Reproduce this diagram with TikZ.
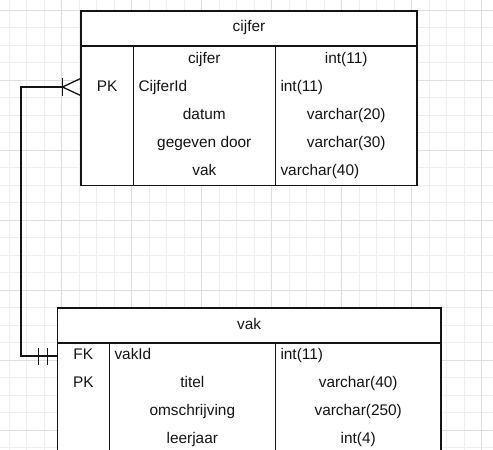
\documentclass[tikz,border=0pt]{standalone}
\usepackage{fontspec}
\setmainfont{Liberation Sans}
\usetikzlibrary{calc}
\definecolor{gridminor}{RGB}{238,238,238}
\definecolor{gridmajor}{RGB}{222,222,222}
\definecolor{ink}{RGB}{20,20,20}
\tikzset{
  entity/.style={draw=ink, fill=white, line width=1.6pt, inner sep=0pt, outer sep=0pt, anchor=north west},
  divider/.style={draw=ink, line width=1.6pt},
  txt/.style={font=\fontsize{15.4}{18}\selectfont, text=ink, inner sep=0pt, text height=11pt, text depth=0pt},
  lefttxt/.style={txt, anchor=west},
  conn/.style={draw=ink, line width=1.3pt},
  minorline/.style={draw=gridminor, line width=0.8pt},
  majorline/.style={draw=gridmajor, line width=0.8pt}
}
\begin{document}
\begin{tikzpicture}[x=1pt,y=-1pt]
\useasboundingbox (0,0) rectangle (493,450);
\clip (0,0) rectangle (493,450);
\fill[white] (0,0) rectangle (493,450);
% grid
\foreach \i in {0,...,29} {
  \draw[minorline] ({-8.3+17.5*\i},0) -- ({-8.3+17.5*\i},450);
}
\foreach \i in {0,...,26} {
  \draw[minorline] (0,{10+17.5*\i}) -- (493,{10+17.5*\i});
}
\foreach \i in {0,...,7} {
  \draw[majorline] ({-8.3+70*\i},0) -- ({-8.3+70*\i},450);
  \draw[majorline] (0,{10+70*\i}) -- (493,{10+70*\i});
}

% ---- table cijfer ----
\node[entity, minimum width=336pt, minimum height=174.3pt] (cijfer) at (81,11) {};
\draw[divider] (81,45.7) -- (417,45.7);
\draw[divider] (133.3,45.7) -- (133.3,185.3);
\draw[divider] (275.3,45.7) -- (275.3,185.3);
\node[txt] (cijferTitle) at (249,26) {cijfer};
\node[txt] (c1b) at (204.3,57.5) {cijfer};
\node[txt] (c1c) at (346.2,57.5) {int(11)};
\node[txt] (c2a) at (107.2,85.7) {PK};
\node[lefttxt] (c2b) at (138.3,85.7) {CijferId};
\node[lefttxt] (c2c) at (280.3,85.7) {int(11)};
\node[txt] (c3b) at (204.3,113.9) {datum};
\node[txt] (c3c) at (346.2,113.9) {varchar(20)};
\node[txt] (c4b) at (204.3,142.1) {gegeven door};
\node[txt] (c4c) at (346.2,142.1) {varchar(30)};
\node[txt] (c5b) at (204.3,170.3) {vak};
\node[lefttxt] (c5c) at (280.3,170.3) {varchar(40)};

% ---- table vak ----
\node[entity, minimum width=383.7pt, minimum height=170pt] (vak) at (57.3,307.7) {};
\draw[divider] (57.3,342.7) -- (441,342.7);
\draw[divider] (109.3,342.7) -- (109.3,480);
\draw[divider] (275.3,342.7) -- (275.3,480);
\node[txt] (vakTitle) at (249.2,324) {vak};
\node[txt] (v1a) at (83.3,354.3) {FK};
\node[lefttxt] (v1b) at (114.3,354.3) {vakId};
\node[lefttxt] (v1c) at (280.3,354.3) {int(11)};
\node[txt] (v2a) at (83.3,382.2) {PK};
\node[txt] (v2b) at (192.3,382.2) {titel};
\node[txt] (v2c) at (358.2,382.2) {varchar(40)};
\node[txt] (v3b) at (192.3,410.1) {omschrijving};
\node[txt] (v3c) at (358.2,410.1) {varchar(250)};
\node[txt] (v4b) at (192.3,438) {leerjaar};
\node[txt] (v4c) at (358.2,438) {int(4)};

% ---- connector ----
\path (cijfer.north west) ++(0,76) coordinate (cEnd);
\path (vak.north west) ++(0,48.3) coordinate (vEnd);
\path (cEnd) ++(-18.5,0) coordinate (crowTip);
\coordinate (bendA) at (21,0 |- cEnd);
\draw[conn] (crowTip) -- (bendA) |- (vEnd);
% crow's foot (many) at cijfer
\draw[conn] (crowTip) -- ($(cEnd)+(0,-8.7)$);
\draw[conn] (crowTip) -- ($(cEnd)+(0,8.7)$);
\draw[conn] ($(crowTip)+(0,-9)$) -- ($(crowTip)+(0,9)$);
% mandatory one at vak
\draw[conn] ($(vEnd)+(-19,-8.5)$) -- ($(vEnd)+(-19,8.5)$);
\draw[conn] ($(vEnd)+(-10,-8.5)$) -- ($(vEnd)+(-10,8.5)$);
\end{tikzpicture}
\end{document}
